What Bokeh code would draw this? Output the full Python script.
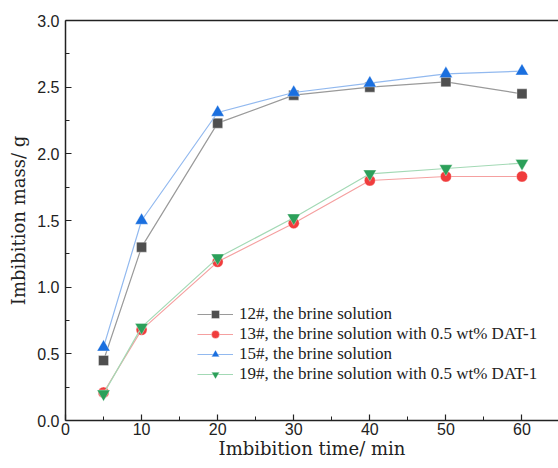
from bokeh.plotting import figure
from bokeh.models import (LinearAxis, Legend, LegendItem, Range1d, FixedTicker,
                          PrintfTickFormatter)
from bokeh.embed import file_html
from bokeh.resources import INLINE

time_min = [5, 10, 20, 30, 40, 50, 60]
s12 = [0.45, 1.30, 2.23, 2.44, 2.50, 2.54, 2.45]
s13 = [0.21, 0.68, 1.19, 1.48, 1.80, 1.83, 1.83]
s15 = [0.55, 1.50, 2.31, 2.46, 2.53, 2.60, 2.62]
s19 = [0.20, 0.70, 1.22, 1.52, 1.85, 1.89, 1.93]
labels = ["12#, the brine solution",
          "13#, the brine solution with 0.5 wt% DAT-1",
          "15#, the brine solution",
          "19#, the brine solution with 0.5 wt% DAT-1"]

SANS = "Liberation Sans"

p = figure(frame_width=493, frame_height=400, output_backend="svg", toolbar_location=None,
           x_range=Range1d(0, 64.8), y_range=Range1d(0, 3.0),
           x_axis_location=None, y_axis_location=None)
p.min_border_left = 65
p.min_border_right = 0
p.min_border_top = 20
p.min_border_bottom = 48
p.outline_line_color = None
p.grid.visible = False

xaxis = LinearAxis(ticker=FixedTicker(ticks=[0, 10, 20, 30, 40, 50, 60],
                                      minor_ticks=[5, 15, 25, 35, 45, 55]),
                   axis_label="Imbibition time/ min")
yaxis = LinearAxis(ticker=FixedTicker(ticks=[0, 0.5, 1.0, 1.5, 2.0, 2.5, 3.0],
                                      minor_ticks=[0.25, 0.75, 1.25, 1.75, 2.25, 2.75]),
                   axis_label="Imbibition mass/ g",
                   formatter=PrintfTickFormatter(format="%.1f"))
for ax in (xaxis, yaxis):
    ax.axis_line_width = 1.5
    ax.axis_line_color = "#222222"
    ax.major_tick_in = 6
    ax.major_tick_out = 0
    ax.minor_tick_in = 4
    ax.minor_tick_out = 0
    ax.major_tick_line_color = "#222222"
    ax.minor_tick_line_color = "#222222"
    ax.major_tick_line_width = 1.2
    ax.major_label_text_font = SANS
    ax.major_label_text_font_size = "16px"
    ax.major_label_text_color = "#222222"
    ax.axis_label_text_font = "DejaVu Serif"
    ax.axis_label_text_font_size = "18px"
    ax.axis_label_text_font_style = "normal"
    ax.axis_label_text_color = "#222222"
xaxis.major_label_standoff = 2
xaxis.axis_label_standoff = 0
yaxis.major_label_standoff = 6
yaxis.axis_label_standoff = 5
p.add_layout(xaxis, "below")
p.add_layout(yaxis, "left")

top = LinearAxis(major_tick_line_color=None, minor_tick_line_color=None,
                 major_label_text_font_size="0px", axis_line_width=1.5,
                 axis_line_color="#222222")
top.major_label_text_color = None
p.add_layout(top, "above")

specs = [
    (s12, "#4f4f4f", "#9a9a9a", "square", 10),
    (s13, "#f03c3c", "#f5a0a0", "circle", 11),
    (s15, "#1a6fdf", "#92b9ef", "triangle", 13),
    (s19, "#2ca05a", "#a3d9b5", "inverted_triangle", 13),
]
items = []
for (ys, mc, lc, mk, sz), lab in zip(specs, labels):
    ln = p.line(time_min, ys, line_color=lc, line_width=1.2)
    sc = p.scatter(time_min, ys, marker=mk, size=sz, fill_color=mc,
                   line_color="white", line_width=0.6, line_alpha=0.6)
    items.append(LegendItem(label=lab, renderers=[ln, sc]))

legend = Legend(items=items, location=(132, 36), border_line_color=None,
                background_fill_alpha=0, glyph_width=36, glyph_height=20,
                label_standoff=6, spacing=0, padding=0, margin=0,
                label_text_font="Liberation Serif", label_text_font_size="17px",
                label_text_color="#222222", label_height=20)
p.add_layout(legend)

open("out.html", "w").write(file_html(p, INLINE))
